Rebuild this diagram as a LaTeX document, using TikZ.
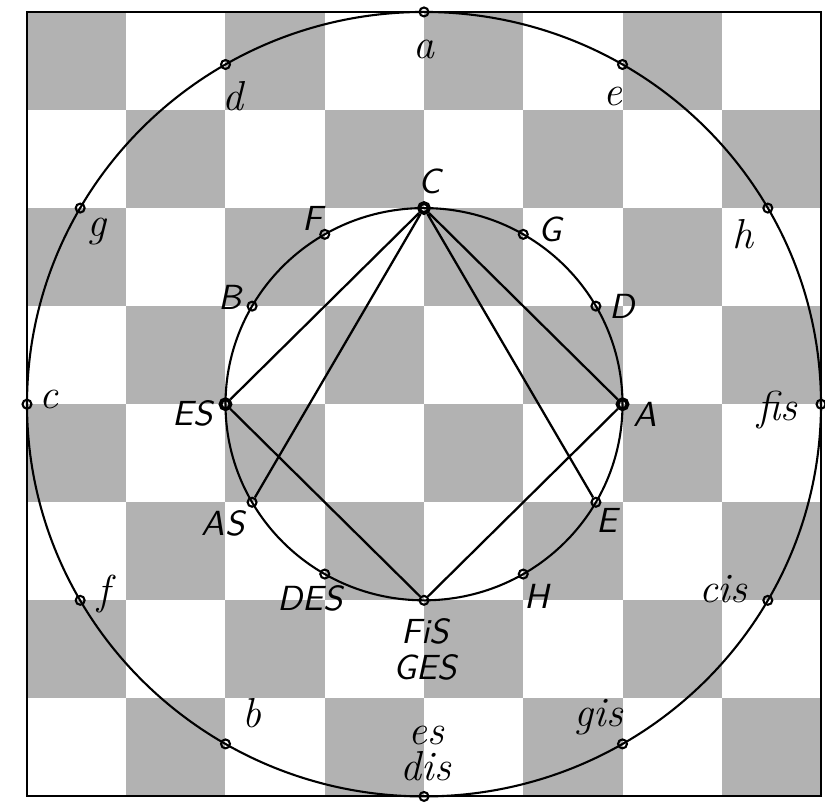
\documentclass[tikz,border=0pt]{standalone}
\usepackage{tikz}
\usetikzlibrary{calc}

\begin{document}
\begin{tikzpicture}[x=1cm,y=0.988cm,
  pt/.style={circle,draw,line width=0.6pt,inner sep=0pt,minimum size=0.09cm},
  keypt/.style={pt,line width=1.1pt,minimum size=0.1cm},
  low/.style={font=\fontsize{12}{10.5}\selectfont\itshape,align=center,inner sep=0pt},
  up/.style={font=\fontsize{10}{10.5}\selectfont\sffamily\slshape,align=center,inner sep=0pt}]
\useasboundingbox (-4.272,-4.153) rectangle (4.040,4.122);
% board
\foreach \i in {0,...,7}{\foreach \j in {0,2,4,6}{
  \pgfmathtruncatemacro\k{\j+mod(\i,2)}
  \fill[black!30] (-4+\i,3-\k) rectangle ++(1,1);}}
\draw[line width=0.6pt] (-4,-4) rectangle (4,4);
% the two circles
\draw[line width=0.6pt] (0,0) circle[radius=4];
\draw[line width=0.6pt] (0,0) circle[radius=2];
\foreach \a/\n in {90/a,60/e,30/h,0/fis,-30/cis,-60/gis,-90/dis,-120/b,-150/f,180/c,150/g,120/d}
  \node[pt] (\n) at (\a:4) {};
\foreach \a/\n/\s in {90/C/keypt,60/G/pt,30/D/pt,0/A/keypt,-30/E/pt,-60/H/pt,-90/FIS/pt,-120/DES/pt,-150/AS/pt,180/ES/keypt,150/B/pt,120/F/pt}
  \node[\s] (\n) at (\a:2) {};
% chords
\draw[line width=0.65pt] (C)--(ES) (C)--(AS) (C)--(E) (C)--(A) (ES)--(FIS)--(A);
% labels
\foreach \n/\dx/\dy in {a/0/-0.38,d/0.08/-0.32,e/-0.10/-0.33,g/0.17/-0.24,h/-0.25/-0.27,c/0.22/0.05,fis/-0.44/-0.06,f/0.24/0.06,cis/-0.45/0.11,b/0.27/0.31,gis/-0.24/0.27}
  \node[low] at ($(\n)+(\dx,\dy)$) {\n};
\node[low] at ($(dis)+(0.02,0.44)$) {es\\dis};
\foreach \n/\dx/\dy in {C/0.06/0.27,F/-0.12/0.16,G/0.27/0.05,B/-0.22/0.09,D/0.26/0,ES/-0.33/-0.09,A/0.23/-0.10,AS/-0.29/-0.22,E/0.11/-0.19,DES/-0.15/-0.25,H/0.14/-0.23}
  \node[up] at ($(\n)+(\dx,\dy)$) {\n};
\node[up] at ($(FIS)+(0.01,-0.50)$) {FiS\\GES};
\end{tikzpicture}
\end{document}
